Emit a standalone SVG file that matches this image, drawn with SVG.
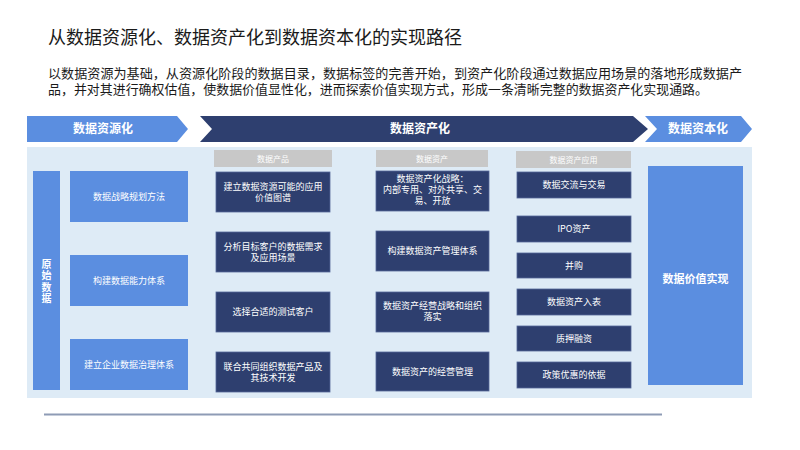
<svg xmlns="http://www.w3.org/2000/svg" width="800" height="450" viewBox="0 0 800 450">
<style>
text{font-family:"Noto Sans CJK SC","Noto Sans",sans-serif;}
.ml{font-family:"Liberation Sans","Noto Sans CJK SC",sans-serif;}
.title{font-size:18px;fill:#1a1a1a;}
.para{font-size:13px;fill:#1a1a1a;}
.band{font-size:12px;font-weight:bold;fill:#ffffff;text-anchor:middle;}
.lb{fill:#5b8ee0;}
.nv{fill:#2e3f6f;stroke:#55689a;stroke-width:0.8;}
.hd{fill:#c8c8c8;}
.hdt{font-size:8px;fill:#ffffff;text-anchor:middle;}
.bt{font-size:9px;fill:#ffffff;text-anchor:middle;}
.bb{font-size:11px;font-weight:bold;fill:#ffffff;text-anchor:middle;}
.vt{font-size:10px;font-weight:bold;fill:#ffffff;text-anchor:middle;writing-mode:vertical-rl;letter-spacing:1.5px;}
</style>
<rect width="800" height="450" fill="#ffffff"/>
<text class="title" x="48" y="44">从数据资源化、数据资产化到数据资本化的实现路径</text>
<text class="para ml" lang="zh-CN" x="48" y="78" textLength="694" lengthAdjust="spacingAndGlyphs">以数据资源为基础，从资源化阶段的数据目录，数据标签的完善开始，到资产化阶段通过数据应用场景的落地形成数据产</text>
<text class="para ml" lang="zh-CN" x="48" y="94" textLength="660" lengthAdjust="spacingAndGlyphs">品，并对其进行确权估值，使数据价值显性化，进而探索价值实现方式，形成一条清晰完整的数据资产化实现通路。</text>

<g id="stage-resource">
<polygon class="lb" points="27,116 177,116 188,129 177,142 27,142"/>
<text class="band" x="103" y="133">数据资源化</text>
</g>
<g id="stage-asset">
<polygon fill="#2e3f6f" points="200,116 633,116 648,129 633,142 200,142 212,129"/>
<text class="band" x="420" y="133">数据资产化</text>
</g>
<g id="stage-capital">
<polygon class="lb" points="645,116 741,116 752,129 741,142 645,142 657,129"/>
<text class="band" x="698" y="133">数据资本化</text>
</g>

<rect id="panel" x="27" y="147" width="725" height="251" fill="#deebf6"/>

<g id="raw-data">
<rect class="lb" x="33" y="171" width="27" height="219"/>
<text class="vt" x="46.5" y="282">原始数据</text>
</g>

<g id="r1"><rect class="lb" x="70" y="171" width="118" height="51"/><text class="bt" x="129" y="199.5">数据战略规划方法</text></g>
<g id="r2"><rect class="lb" x="70" y="255" width="118" height="51"/><text class="bt" x="129" y="283.5">构建数据能力体系</text></g>
<g id="r3"><rect class="lb" x="70" y="339" width="118" height="51"/><text class="bt" x="129" y="367.5">建立企业数据治理体系</text></g>

<g id="h-product"><rect class="hd" x="214" y="150" width="118" height="17"/><text class="hdt" x="273" y="161.5">数据产品</text></g>
<g id="h-asset"><rect class="hd" x="376" y="150" width="112" height="17"/><text class="hdt" x="432" y="161.5">数据资产</text></g>
<g id="h-app"><rect class="hd" x="516" y="151" width="115" height="17"/><text class="hdt" x="573.5" y="162.5">数据资产应用</text></g>

<g id="p1"><rect class="nv" x="216" y="172" width="114" height="40"/><text class="bt ml" lang="zh-CN" x="273" y="190">建立数据资源可能的应用</text><text class="bt ml" lang="zh-CN" x="273" y="201">价值图谱</text></g>
<g id="p2"><rect class="nv" x="216" y="232" width="114" height="40"/><text class="bt ml" lang="zh-CN" x="273" y="250">分析目标客户的数据需求</text><text class="bt ml" lang="zh-CN" x="273" y="261">及应用场景</text></g>
<g id="p3"><rect class="nv" x="216" y="292" width="114" height="40"/><text class="bt" x="273" y="315">选择合适的测试客户</text></g>
<g id="p4"><rect class="nv" x="216" y="352" width="114" height="40"/><text class="bt ml" lang="zh-CN" x="273" y="370">联合共同组织数据产品及</text><text class="bt ml" lang="zh-CN" x="273" y="381">其技术开发</text></g>

<g id="a1"><rect class="nv" x="376" y="171" width="113" height="40"/><text class="bt ml" lang="zh-CN" x="432.5" y="181.5">数据资产化战略：</text><text class="bt ml" lang="zh-CN" x="432.5" y="192.5">内部专用、对外共享、交</text><text class="bt ml" lang="zh-CN" x="432.5" y="203.5">易、开放</text></g>
<g id="a2"><rect class="nv" x="376" y="231" width="113" height="40"/><text class="bt" x="432.5" y="254">构建数据资产管理体系</text></g>
<g id="a3"><rect class="nv" x="376" y="292" width="113" height="40"/><text class="bt ml" lang="zh-CN" x="432.5" y="309">数据资产经营战略和组织</text><text class="bt ml" lang="zh-CN" x="432.5" y="320">落实</text></g>
<g id="a4"><rect class="nv" x="376" y="352" width="113" height="39"/><text class="bt" x="432.5" y="374.5">数据资产的经营管理</text></g>

<g id="u1"><rect class="nv" x="517" y="172" width="114" height="26"/><text class="bt" x="574" y="188">数据交流与交易</text></g>
<g id="u2"><rect class="nv" x="517" y="216" width="114" height="26"/><text class="bt" x="574" y="232">IPO资产</text></g>
<g id="u3"><rect class="nv" x="517" y="253" width="114" height="25"/><text class="bt" x="574" y="268.5">并购</text></g>
<g id="u4"><rect class="nv" x="517" y="289" width="114" height="26"/><text class="bt" x="574" y="305">数据资产入表</text></g>
<g id="u5"><rect class="nv" x="517" y="326" width="114" height="25"/><text class="bt" x="574" y="341.5">质押融资</text></g>
<g id="u6"><rect class="nv" x="517" y="362" width="114" height="26"/><text class="bt" x="574" y="378">政策优惠的依据</text></g>

<g id="value"><rect class="lb" x="648" y="166" width="95" height="219"/><text class="bb" x="695.5" y="283">数据价值实现</text></g>

<line x1="44" y1="414.5" x2="662" y2="414.5" stroke="#8e9bb5" stroke-width="2"/>
</svg>
